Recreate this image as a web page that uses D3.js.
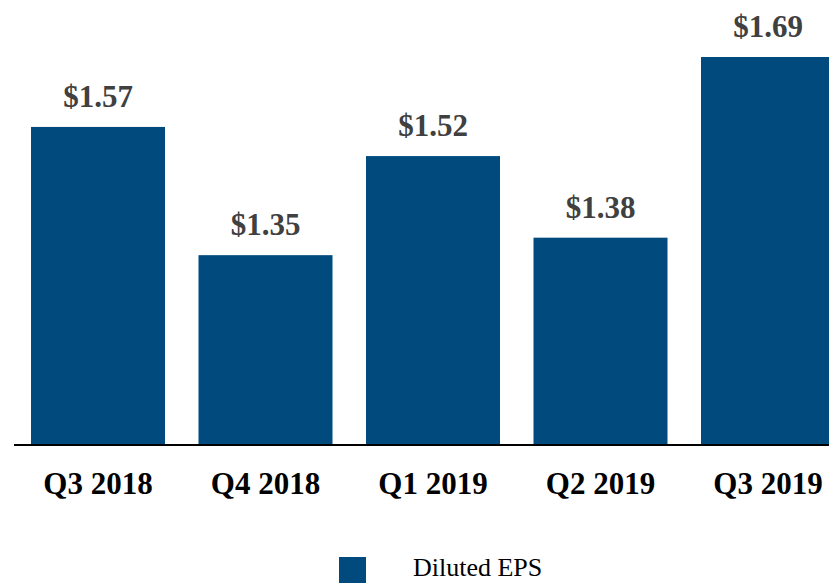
<!DOCTYPE html>
<html>
<head>
<meta charset="utf-8">
<script src="https://cdn.jsdelivr.net/npm/d3@7"></script>
<style>
  body { margin: 0; background: #fff; }
  svg { display: block; }
</style>
</head>
<body>
<div id="chart"></div>
<script>
// данные
var quarters = ["Q3 2018", "Q4 2018", "Q1 2019", "Q2 2019", "Q3 2019"]
var eps = [1.57, 1.35, 1.52, 1.38, 1.69]
var seriesName = "Diluted EPS"

var width = 829, height = 583
var barColor = "#014a7e"

var svg = d3.select("#chart").append("svg")
    .attr("width", width)
    .attr("height", height)

// последний столбец обрезан краем картинки
x = d3.scaleBand()
    .domain(quarters)
    .range([31, 835])
    .paddingInner(0.2)
    .paddingOuter(0)

// ось начинается не с нуля
y = d3.scaleLinear()
    .domain([1.026, 1.69])
    .range([444, 57])

svg.selectAll(".bar")
    .data(eps)
    .enter().append("rect")
    .attr("class", "bar")
    .attr("x", function (d, i) { return x(quarters[i]) })
    .attr("y", function (d) { return y(d) })
    .attr("width", x.bandwidth())
    .attr("height", function (d) { return y.range()[0] - y(d) })
    .style("fill", barColor)

svg.selectAll(".val")
    .data(eps)
    .enter().append("text")
    .attr("class", "val")
    .attr("x", function (d, i) { return x(quarters[i]) + x.bandwidth() / 2 })
    .attr("y", function (d) { return y(d) - 20 })
    .attr("text-anchor", "middle")
    .style("font-family", "'Liberation Serif', 'Times New Roman', serif")
    .style("font-weight", "bold")
    .style("font-size", "31px")
    .style("fill", "#404040")
    .text(function (d) { return "$" + d.toFixed(2) })

// базовая линия
svg.append("line")
    .attr("x1", 14)
    .attr("x2", width)
    .attr("y1", y.range()[0] + 1)
    .attr("y2", y.range()[0] + 1)
    .style("stroke", "#000")
    .style("stroke-width", 2)

svg.selectAll(".cat")
    .data(quarters)
    .enter().append("text")
    .attr("class", "cat")
    .attr("x", function (d) { return x(d) + x.bandwidth() / 2 })
    .attr("y", 494)
    .attr("text-anchor", "middle")
    .style("font-family", "'Liberation Serif', 'Times New Roman', serif")
    .style("font-weight", "bold")
    .style("font-size", "31px")
    .style("fill", "#000")
    .text(function (d) { return d })

// легенда
var legend = svg.append("g")
legend.append("rect")
    .attr("x", 339)
    .attr("y", 557)
    .attr("width", 27)
    .attr("height", 27)
    .style("fill", barColor)
legend.append("text")
    .attr("x", 413)
    .attr("y", 576)
    .style("font-family", "'Liberation Serif', 'Times New Roman', serif")
    .style("font-size", "26px")
    .style("fill", "#000")
    .text(seriesName)
</script>
</body>
</html>
